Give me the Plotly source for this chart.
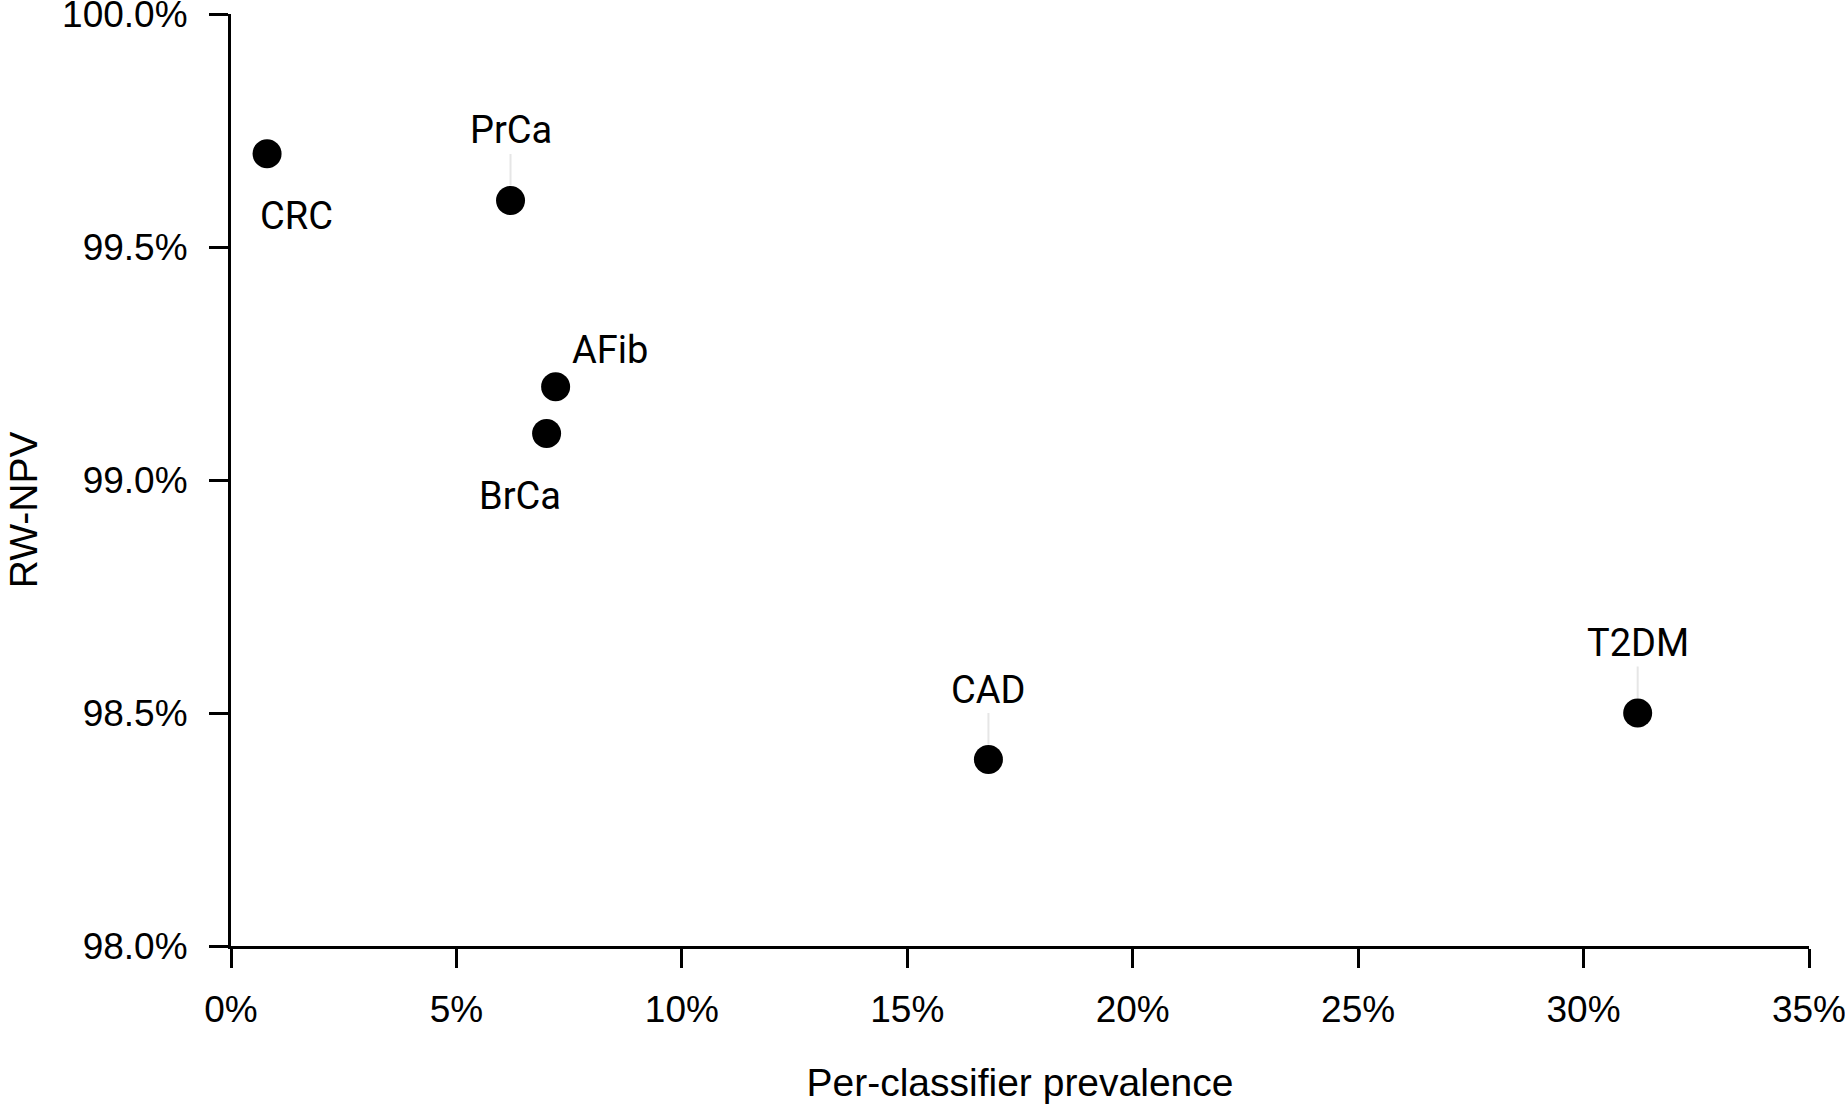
import plotly.graph_objects as go

# Data
classifiers = ["CRC", "PrCa", "AFib", "BrCa", "CAD", "T2DM"]
prevalence = [0.008, 0.062, 0.072, 0.070, 0.168, 0.312]
rw_npv = [0.997, 0.996, 0.992, 0.991, 0.984, 0.985]

x_ticks = [0, 0.05, 0.10, 0.15, 0.20, 0.25, 0.30, 0.35]
y_ticks = [0.98, 0.985, 0.99, 0.995, 1.0]

TICK_FONT = dict(family="Liberation Sans, Arial, sans-serif", size=37, color="black")
TITLE_FONT = dict(family="Liberation Sans, Arial, sans-serif", size=39, color="black")
LABEL_FONT = dict(family="Roboto, sans-serif", size=38, color="black")

fig = go.Figure()
fig.add_trace(go.Scatter(
    x=prevalence, y=rw_npv, mode="markers",
    marker=dict(size=29, color="black"),
    text=classifiers, hoverinfo="text", showlegend=False, cliponaxis=False,
))

# label placement: (xshift, yshift, arrow)
placement = {
    "CRC": (29, -62, False),
    "PrCa": (0, 70, True),
    "AFib": (54, 37, False),
    "BrCa": (-27, -63, False),
    "CAD": (0, 70, True),
    "T2DM": (0, 70, True),
}
for name, xv, yv in zip(classifiers, prevalence, rw_npv):
    dx, dy, arrow = placement[name]
    if arrow:
        fig.add_annotation(x=xv, y=yv, xref="x", yref="y", text=name, font=LABEL_FONT,
                           showarrow=True, ax=0, ay=-dy, arrowhead=0, arrowwidth=2,
                           arrowcolor="#e6e6e6", standoff=15)
    else:
        fig.add_annotation(x=xv, y=yv, xref="x", yref="y", text=name, font=LABEL_FONT,
                           showarrow=False, xshift=dx, yshift=dy)

# y-axis title
fig.add_annotation(text="RW-NPV", xref="paper", yref="paper", x=-0.1464, y=0.468,
                   textangle=-90, showarrow=False, font=TITLE_FONT,
                   xanchor="left", yanchor="middle", borderpad=0, xshift=1)

axis_common = dict(showline=True, linecolor="black", linewidth=3, ticks="outside",
                   ticklen=19, tickwidth=3, tickcolor="black", showgrid=False,
                   zeroline=False, tickfont=TICK_FONT, automargin=False,
                   ticklabeloverflow="allow")

fig.update_xaxes(range=[0, 0.3500001], tickvals=x_ticks, tickformat=".0%",
                 ticklabelstandoff=10,
                 title=dict(text="Per-classifier prevalence", font=TITLE_FONT, standoff=45),
                 **axis_common)
fig.update_yaxes(range=[0.98, 1.0000001], tickvals=y_ticks, tickformat=".1%",
                 ticklabelstandoff=14,
                 **axis_common)

fig.update_layout(
    width=1845, height=1104,
    margin=dict(l=231, r=36, t=14, b=158),
    plot_bgcolor="white", paper_bgcolor="white",
)

fig.write_html("out.html", config={"displayModeBar": False},
               post_script="document.body.style.margin='0';document.body.style.overflow='hidden';")
